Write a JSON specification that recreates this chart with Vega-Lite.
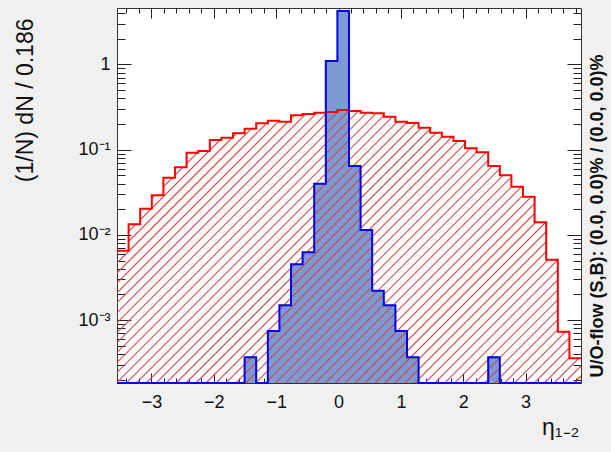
{
  "$schema": "https://vega.github.io/schema/vega-lite/v6.json",
  "width": 464,
  "height": 375,
  "autosize": {"type": "none"},
  "padding": {"left": 117, "top": 8, "right": 30, "bottom": 69},
  "background": "#f0f0f0",
  "config": {
    "view": {"fill": "white", "stroke": "#333333", "strokeWidth": 1},
    "font": "Liberation Sans",
    "axis": {
      "domain": false,
      "grid": false,
      "tickColor": "#222222",
      "tickWidth": 1,
      "labelColor": "#111111",
      "labelFont": "Liberation Sans",
      "labelFontSize": 18,
      "titleFont": "Liberation Sans",
      "titleColor": "#111111",
      "titleFontWeight": "normal",
      "labelOverlap": false,
      "labelFlush": false,
      "labelBound": false
    }
  },
  "data": {
    "values": [
      {"lo": -3.552, "sig": 0, "bkg": 0.00653},
      {"lo": -3.366, "sig": 0, "bkg": 0.0133},
      {"lo": -3.18, "sig": 0, "bkg": 0.0203},
      {"lo": -2.994, "sig": 0, "bkg": 0.0292},
      {"lo": -2.808, "sig": 0, "bkg": 0.047},
      {"lo": -2.622, "sig": 0, "bkg": 0.0621},
      {"lo": -2.436, "sig": 0, "bkg": 0.0922},
      {"lo": -2.25, "sig": 0, "bkg": 0.0966},
      {"lo": -2.064, "sig": 0, "bkg": 0.13},
      {"lo": -1.878, "sig": 0, "bkg": 0.138},
      {"lo": -1.692, "sig": 0, "bkg": 0.156},
      {"lo": -1.506, "sig": 0.000366, "bkg": 0.176},
      {"lo": -1.32, "sig": 0, "bkg": 0.204},
      {"lo": -1.134, "sig": 0.000745, "bkg": 0.219},
      {"lo": -0.948, "sig": 0.0015, "bkg": 0.213},
      {"lo": -0.762, "sig": 0.00452, "bkg": 0.253},
      {"lo": -0.576, "sig": 0.00625, "bkg": 0.262},
      {"lo": -0.39, "sig": 0.0399, "bkg": 0.272},
      {"lo": -0.204, "sig": 1.1, "bkg": 0.277},
      {"lo": -0.018, "sig": 4.25, "bkg": 0.292},
      {"lo": 0.168, "sig": 0.0644, "bkg": 0.285},
      {"lo": 0.354, "sig": 0.01142, "bkg": 0.272},
      {"lo": 0.54, "sig": 0.00221, "bkg": 0.268},
      {"lo": 0.726, "sig": 0.0015, "bkg": 0.244},
      {"lo": 0.912, "sig": 0.000745, "bkg": 0.213},
      {"lo": 1.098, "sig": 0.000366, "bkg": 0.206},
      {"lo": 1.284, "sig": 0, "bkg": 0.181},
      {"lo": 1.47, "sig": 0, "bkg": 0.158},
      {"lo": 1.656, "sig": 0, "bkg": 0.142},
      {"lo": 1.842, "sig": 0, "bkg": 0.1265},
      {"lo": 2.028, "sig": 0, "bkg": 0.1038},
      {"lo": 2.214, "sig": 0, "bkg": 0.0932},
      {"lo": 2.4, "sig": 0.000366, "bkg": 0.0644},
      {"lo": 2.586, "sig": 0, "bkg": 0.0501},
      {"lo": 2.772, "sig": 0, "bkg": 0.0368},
      {"lo": 2.958, "sig": 0, "bkg": 0.0281},
      {"lo": 3.144, "sig": 0, "bkg": 0.01406},
      {"lo": 3.33, "sig": 0, "bkg": 0.00512},
      {"lo": 3.516, "sig": 0, "bkg": 0.000731},
      {"lo": 3.702, "sig": 0, "bkg": 0.000356},
      {"lo": 3.888, "sig": 0, "bkg": 0.000356}
    ]
  },
  "resolve": {"axis": {"x": "independent", "y": "independent"}},
  "layer": [
    {
      "mark": {"type": "area", "interpolate": "step-after", "fill": "#7d99d1", "clip": true},
      "encoding": {
        "x": {
          "field": "lo", "type": "quantitative",
          "scale": {"domain": [-3.552, 3.888], "nice": false, "zero": false},
          "axis": {
            "orient": "bottom",
            "values": [-3.4, -3.2, -3, -2.8, -2.6, -2.4, -2.2, -2, -1.8, -1.6, -1.4, -1.2, -1, -0.8, -0.6, -0.4, -0.2, 0, 0.2, 0.4, 0.6, 0.8, 1, 1.2, 1.4, 1.6, 1.8, 2, 2.2, 2.4, 2.6, 2.8, 3, 3.2, 3.4, 3.6, 3.8],
            "tickSize": {"condition": {"test": "datum.value % 1 == 0", "value": -10}, "value": -5},
            "labelExpr": "datum.value % 1 == 0 ? format(datum.value, 'd') : ''",
            "labelBaseline": "top",
            "labelPadding": 20,
            "title": "η₁₋₂",
            "titleFontSize": 23,
            "titleAlign": "right",
            "titleBaseline": "alphabetic",
            "titleX": 462,
            "titleY": 51
          }
        },
        "y": {
          "field": "sig", "type": "quantitative",
          "scale": {"type": "log", "domain": [0.000183, 4.6], "nice": false, "clamp": true},
          "axis": {
            "orient": "left",
            "values": [0.0002, 0.0003, 0.0004, 0.0005, 0.0006, 0.0007, 0.0008, 0.0009, 0.001, 0.002, 0.003, 0.004, 0.005, 0.006, 0.007, 0.008, 0.009, 0.01, 0.02, 0.03, 0.04, 0.05, 0.06, 0.07, 0.08, 0.09, 0.1, 0.2, 0.3, 0.4, 0.5, 0.6, 0.7, 0.8, 0.9, 1, 2, 3, 4],
            "tickSize": {"condition": {"test": "datum.value == 1 || datum.value == 0.1 || datum.value == 0.01 || datum.value == 0.001", "value": -14}, "value": -8},
            "labelExpr": "datum.value == 1 ? '1' : datum.value == 0.1 ? '10⁻¹' : datum.value == 0.01 ? '10⁻²' : datum.value == 0.001 ? '10⁻³' : ''",
            "labelBaseline": "middle",
            "labelPadding": 21,
            "title": "(1/N) dN / 0.186",
            "titleFontSize": 23,
            "titleAngle": 270,
            "titleAlign": "right",
            "titleBaseline": "middle",
            "titleX": -92,
            "titleY": 10
          }
        }
      }
    },
    {
      "mark": {
        "type": "area", "interpolate": "step-after", "clip": true,
        "fill": {
          "gradient": "linear", "x1": 0, "y1": 0, "x2": 1.18, "y2": 0.694,
          "stops": [
            {"offset": 0.003, "color": "#d0404000"}, {"offset": 0.005, "color": "#d04040"}, {"offset": 0.007, "color": "#d0404000"},
            {"offset": 0.0165, "color": "#d0404000"}, {"offset": 0.0185, "color": "#d04040"}, {"offset": 0.0205, "color": "#d0404000"},
            {"offset": 0.03, "color": "#d0404000"}, {"offset": 0.032, "color": "#d04040"}, {"offset": 0.034, "color": "#d0404000"},
            {"offset": 0.0435, "color": "#d0404000"}, {"offset": 0.0455, "color": "#d04040"}, {"offset": 0.0475, "color": "#d0404000"},
            {"offset": 0.057, "color": "#d0404000"}, {"offset": 0.059, "color": "#d04040"}, {"offset": 0.061, "color": "#d0404000"},
            {"offset": 0.0705, "color": "#d0404000"}, {"offset": 0.0725, "color": "#d04040"}, {"offset": 0.0745, "color": "#d0404000"},
            {"offset": 0.084, "color": "#d0404000"}, {"offset": 0.086, "color": "#d04040"}, {"offset": 0.088, "color": "#d0404000"},
            {"offset": 0.0975, "color": "#d0404000"}, {"offset": 0.0995, "color": "#d04040"}, {"offset": 0.1015, "color": "#d0404000"},
            {"offset": 0.111, "color": "#d0404000"}, {"offset": 0.113, "color": "#d04040"}, {"offset": 0.115, "color": "#d0404000"},
            {"offset": 0.1245, "color": "#d0404000"}, {"offset": 0.1265, "color": "#d04040"}, {"offset": 0.1285, "color": "#d0404000"},
            {"offset": 0.138, "color": "#d0404000"}, {"offset": 0.14, "color": "#d04040"}, {"offset": 0.142, "color": "#d0404000"},
            {"offset": 0.1515, "color": "#d0404000"}, {"offset": 0.1535, "color": "#d04040"}, {"offset": 0.1555, "color": "#d0404000"},
            {"offset": 0.165, "color": "#d0404000"}, {"offset": 0.167, "color": "#d04040"}, {"offset": 0.169, "color": "#d0404000"},
            {"offset": 0.1785, "color": "#d0404000"}, {"offset": 0.1805, "color": "#d04040"}, {"offset": 0.1825, "color": "#d0404000"},
            {"offset": 0.192, "color": "#d0404000"}, {"offset": 0.194, "color": "#d04040"}, {"offset": 0.196, "color": "#d0404000"},
            {"offset": 0.2055, "color": "#d0404000"}, {"offset": 0.2075, "color": "#d04040"}, {"offset": 0.2095, "color": "#d0404000"},
            {"offset": 0.219, "color": "#d0404000"}, {"offset": 0.221, "color": "#d04040"}, {"offset": 0.223, "color": "#d0404000"},
            {"offset": 0.2325, "color": "#d0404000"}, {"offset": 0.2345, "color": "#d04040"}, {"offset": 0.2365, "color": "#d0404000"},
            {"offset": 0.246, "color": "#d0404000"}, {"offset": 0.248, "color": "#d04040"}, {"offset": 0.25, "color": "#d0404000"},
            {"offset": 0.2595, "color": "#d0404000"}, {"offset": 0.2615, "color": "#d04040"}, {"offset": 0.2635, "color": "#d0404000"},
            {"offset": 0.273, "color": "#d0404000"}, {"offset": 0.275, "color": "#d04040"}, {"offset": 0.277, "color": "#d0404000"},
            {"offset": 0.2865, "color": "#d0404000"}, {"offset": 0.2885, "color": "#d04040"}, {"offset": 0.2905, "color": "#d0404000"},
            {"offset": 0.3, "color": "#d0404000"}, {"offset": 0.302, "color": "#d04040"}, {"offset": 0.304, "color": "#d0404000"},
            {"offset": 0.3135, "color": "#d0404000"}, {"offset": 0.3155, "color": "#d04040"}, {"offset": 0.3175, "color": "#d0404000"},
            {"offset": 0.327, "color": "#d0404000"}, {"offset": 0.329, "color": "#d04040"}, {"offset": 0.331, "color": "#d0404000"},
            {"offset": 0.3405, "color": "#d0404000"}, {"offset": 0.3425, "color": "#d04040"}, {"offset": 0.3445, "color": "#d0404000"},
            {"offset": 0.354, "color": "#d0404000"}, {"offset": 0.356, "color": "#d04040"}, {"offset": 0.358, "color": "#d0404000"},
            {"offset": 0.3675, "color": "#d0404000"}, {"offset": 0.3695, "color": "#d04040"}, {"offset": 0.3715, "color": "#d0404000"},
            {"offset": 0.381, "color": "#d0404000"}, {"offset": 0.383, "color": "#d04040"}, {"offset": 0.385, "color": "#d0404000"},
            {"offset": 0.3945, "color": "#d0404000"}, {"offset": 0.3965, "color": "#d04040"}, {"offset": 0.3985, "color": "#d0404000"},
            {"offset": 0.408, "color": "#d0404000"}, {"offset": 0.41, "color": "#d04040"}, {"offset": 0.412, "color": "#d0404000"},
            {"offset": 0.4215, "color": "#d0404000"}, {"offset": 0.4235, "color": "#d04040"}, {"offset": 0.4255, "color": "#d0404000"},
            {"offset": 0.435, "color": "#d0404000"}, {"offset": 0.437, "color": "#d04040"}, {"offset": 0.439, "color": "#d0404000"},
            {"offset": 0.4485, "color": "#d0404000"}, {"offset": 0.4505, "color": "#d04040"}, {"offset": 0.4525, "color": "#d0404000"},
            {"offset": 0.462, "color": "#d0404000"}, {"offset": 0.464, "color": "#d04040"}, {"offset": 0.466, "color": "#d0404000"},
            {"offset": 0.4755, "color": "#d0404000"}, {"offset": 0.4775, "color": "#d04040"}, {"offset": 0.4795, "color": "#d0404000"},
            {"offset": 0.489, "color": "#d0404000"}, {"offset": 0.491, "color": "#d04040"}, {"offset": 0.493, "color": "#d0404000"},
            {"offset": 0.5025, "color": "#d0404000"}, {"offset": 0.5045, "color": "#d04040"}, {"offset": 0.5065, "color": "#d0404000"},
            {"offset": 0.516, "color": "#d0404000"}, {"offset": 0.518, "color": "#d04040"}, {"offset": 0.52, "color": "#d0404000"},
            {"offset": 0.5295, "color": "#d0404000"}, {"offset": 0.5315, "color": "#d04040"}, {"offset": 0.5335, "color": "#d0404000"},
            {"offset": 0.543, "color": "#d0404000"}, {"offset": 0.545, "color": "#d04040"}, {"offset": 0.547, "color": "#d0404000"},
            {"offset": 0.5565, "color": "#d0404000"}, {"offset": 0.5585, "color": "#d04040"}, {"offset": 0.5605, "color": "#d0404000"},
            {"offset": 0.57, "color": "#d0404000"}, {"offset": 0.572, "color": "#d04040"}, {"offset": 0.574, "color": "#d0404000"},
            {"offset": 0.5835, "color": "#d0404000"}, {"offset": 0.5855, "color": "#d04040"}, {"offset": 0.5875, "color": "#d0404000"},
            {"offset": 0.597, "color": "#d0404000"}, {"offset": 0.599, "color": "#d04040"}, {"offset": 0.601, "color": "#d0404000"},
            {"offset": 0.6105, "color": "#d0404000"}, {"offset": 0.6125, "color": "#d04040"}, {"offset": 0.6145, "color": "#d0404000"},
            {"offset": 0.624, "color": "#d0404000"}, {"offset": 0.626, "color": "#d04040"}, {"offset": 0.628, "color": "#d0404000"},
            {"offset": 0.6375, "color": "#d0404000"}, {"offset": 0.6395, "color": "#d04040"}, {"offset": 0.6415, "color": "#d0404000"},
            {"offset": 0.651, "color": "#d0404000"}, {"offset": 0.653, "color": "#d04040"}, {"offset": 0.655, "color": "#d0404000"},
            {"offset": 0.6645, "color": "#d0404000"}, {"offset": 0.6665, "color": "#d04040"}, {"offset": 0.6685, "color": "#d0404000"},
            {"offset": 0.678, "color": "#d0404000"}, {"offset": 0.68, "color": "#d04040"}, {"offset": 0.682, "color": "#d0404000"},
            {"offset": 0.6915, "color": "#d0404000"}, {"offset": 0.6935, "color": "#d04040"}, {"offset": 0.6955, "color": "#d0404000"},
            {"offset": 0.705, "color": "#d0404000"}, {"offset": 0.707, "color": "#d04040"}, {"offset": 0.709, "color": "#d0404000"},
            {"offset": 0.7185, "color": "#d0404000"}, {"offset": 0.7205, "color": "#d04040"}, {"offset": 0.7225, "color": "#d0404000"},
            {"offset": 0.732, "color": "#d0404000"}, {"offset": 0.734, "color": "#d04040"}, {"offset": 0.736, "color": "#d0404000"},
            {"offset": 0.7455, "color": "#d0404000"}, {"offset": 0.7475, "color": "#d04040"}, {"offset": 0.7495, "color": "#d0404000"},
            {"offset": 0.759, "color": "#d0404000"}, {"offset": 0.761, "color": "#d04040"}, {"offset": 0.763, "color": "#d0404000"},
            {"offset": 0.7725, "color": "#d0404000"}, {"offset": 0.7745, "color": "#d04040"}, {"offset": 0.7765, "color": "#d0404000"},
            {"offset": 0.786, "color": "#d0404000"}, {"offset": 0.788, "color": "#d04040"}, {"offset": 0.79, "color": "#d0404000"},
            {"offset": 0.7995, "color": "#d0404000"}, {"offset": 0.8015, "color": "#d04040"}, {"offset": 0.8035, "color": "#d0404000"},
            {"offset": 0.813, "color": "#d0404000"}, {"offset": 0.815, "color": "#d04040"}, {"offset": 0.817, "color": "#d0404000"},
            {"offset": 0.8265, "color": "#d0404000"}, {"offset": 0.8285, "color": "#d04040"}, {"offset": 0.8305, "color": "#d0404000"},
            {"offset": 0.84, "color": "#d0404000"}, {"offset": 0.842, "color": "#d04040"}, {"offset": 0.844, "color": "#d0404000"},
            {"offset": 0.8535, "color": "#d0404000"}, {"offset": 0.8555, "color": "#d04040"}, {"offset": 0.8575, "color": "#d0404000"},
            {"offset": 0.867, "color": "#d0404000"}, {"offset": 0.869, "color": "#d04040"}, {"offset": 0.871, "color": "#d0404000"},
            {"offset": 0.8805, "color": "#d0404000"}, {"offset": 0.8825, "color": "#d04040"}, {"offset": 0.8845, "color": "#d0404000"},
            {"offset": 0.894, "color": "#d0404000"}, {"offset": 0.896, "color": "#d04040"}, {"offset": 0.898, "color": "#d0404000"},
            {"offset": 0.9075, "color": "#d0404000"}, {"offset": 0.9095, "color": "#d04040"}, {"offset": 0.9115, "color": "#d0404000"},
            {"offset": 0.921, "color": "#d0404000"}, {"offset": 0.923, "color": "#d04040"}, {"offset": 0.925, "color": "#d0404000"},
            {"offset": 0.9345, "color": "#d0404000"}, {"offset": 0.9365, "color": "#d04040"}, {"offset": 0.9385, "color": "#d0404000"},
            {"offset": 0.948, "color": "#d0404000"}, {"offset": 0.95, "color": "#d04040"}, {"offset": 0.952, "color": "#d0404000"},
            {"offset": 0.9615, "color": "#d0404000"}, {"offset": 0.9635, "color": "#d04040"}, {"offset": 0.9655, "color": "#d0404000"},
            {"offset": 0.975, "color": "#d0404000"}, {"offset": 0.977, "color": "#d04040"}, {"offset": 0.979, "color": "#d0404000"},
            {"offset": 0.9885, "color": "#d0404000"}, {"offset": 0.9905, "color": "#d04040"}, {"offset": 0.9925, "color": "#d0404000"}
          ]
        }
      },
      "encoding": {
        "x": {
          "field": "lo", "type": "quantitative",
          "scale": {"domain": [-3.552, 3.888], "nice": false, "zero": false},
          "axis": {
            "orient": "top",
            "values": [-3.4, -3.2, -3, -2.8, -2.6, -2.4, -2.2, -2, -1.8, -1.6, -1.4, -1.2, -1, -0.8, -0.6, -0.4, -0.2, 0, 0.2, 0.4, 0.6, 0.8, 1, 1.2, 1.4, 1.6, 1.8, 2, 2.2, 2.4, 2.6, 2.8, 3, 3.2, 3.4, 3.6, 3.8],
            "tickSize": {"condition": {"test": "datum.value % 1 == 0", "value": -10}, "value": -5},
            "labels": false,
            "title": null
          }
        },
        "y": {
          "field": "bkg", "type": "quantitative",
          "scale": {"type": "log", "domain": [0.000183, 4.6], "nice": false, "clamp": true},
          "axis": {
            "orient": "right",
            "values": [0.0002, 0.0003, 0.0004, 0.0005, 0.0006, 0.0007, 0.0008, 0.0009, 0.001, 0.002, 0.003, 0.004, 0.005, 0.006, 0.007, 0.008, 0.009, 0.01, 0.02, 0.03, 0.04, 0.05, 0.06, 0.07, 0.08, 0.09, 0.1, 0.2, 0.3, 0.4, 0.5, 0.6, 0.7, 0.8, 0.9, 1, 2, 3, 4],
            "tickSize": {"condition": {"test": "datum.value == 1 || datum.value == 0.1 || datum.value == 0.01 || datum.value == 0.001", "value": -14}, "value": -8},
            "labels": false,
            "title": "U/O-flow (S,B): (0.0, 0.0)% / (0.0, 0.0)%",
            "titleFontSize": 18,
            "titleFontWeight": "bold",
            "titleAngle": 270,
            "titleAlign": "left",
            "titleBaseline": "middle",
            "titleX": 16,
            "titleY": 369
          }
        }
      }
    },
    {
      "mark": {"type": "line", "interpolate": "step-after", "stroke": "#ff0000", "strokeWidth": 2},
      "encoding": {
        "x": {"field": "lo", "type": "quantitative", "scale": {"domain": [-3.552, 3.888], "nice": false, "zero": false}, "axis": null},
        "y": {"field": "bkg", "type": "quantitative", "scale": {"type": "log", "domain": [0.000183, 4.6], "nice": false, "clamp": true}, "axis": null}
      }
    },
    {
      "mark": {"type": "line", "interpolate": "step-after", "stroke": "#0000ee", "strokeWidth": 2},
      "encoding": {
        "x": {"field": "lo", "type": "quantitative", "scale": {"domain": [-3.552, 3.888], "nice": false, "zero": false}, "axis": null},
        "y": {"field": "sig", "type": "quantitative", "scale": {"type": "log", "domain": [0.000183, 4.6], "nice": false, "clamp": true}, "axis": null}
      }
    }
  ]
}
